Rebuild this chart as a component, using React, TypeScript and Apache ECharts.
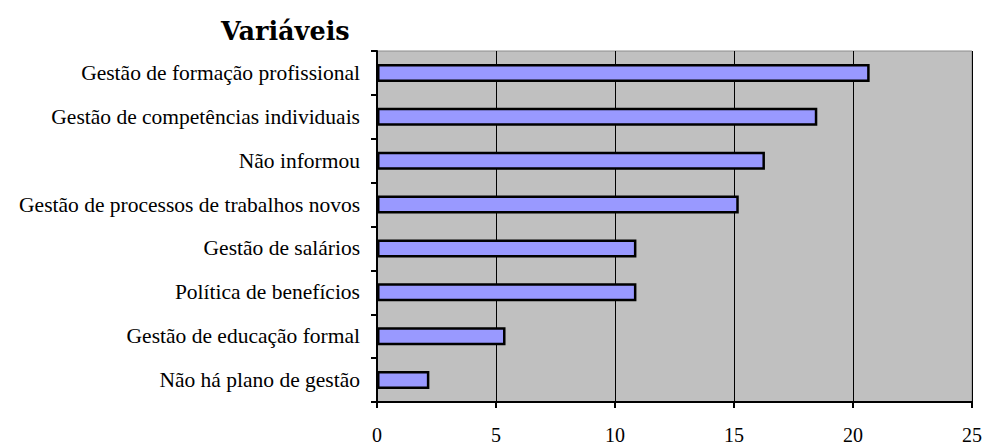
import React, { useEffect, useRef } from "react";
import * as echarts from "echarts";

const categories = [
  "Gestão de formação profissional",
  "Gestão de competências individuais",
  "Não informou",
  "Gestão de processos de trabalhos novos",
  "Gestão de salários",
  "Política de benefícios",
  "Gestão de educação formal",
  "Não há plano de gestão",
];
const values = [20.7, 18.5, 16.3, 15.2, 10.9, 10.9, 5.4, 2.2];
const titleText = "Variáveis";

const FONT = "'Liberation Serif', 'DejaVu Serif', serif";

export default function App() {
  const ref = useRef<HTMLDivElement>(null);
  useEffect(() => {
    document.body.style.margin = "0";
    document.body.style.overflow = "hidden";
    if (!ref.current) return;
    const chart = echarts.init(ref.current, null, { renderer: "svg" });
    chart.setOption({
      animation: false,
      backgroundColor: "#ffffff",
      title: {
        text: titleText,
        left: 216,
        top: 13,
        textStyle: { fontFamily: "'DejaVu Serif', serif", fontWeight: "bold", fontSize: 25.5, color: "#000" },
      },
      grid: {
        left: 377,
        right: 11,
        top: 51,
        bottom: 42,
        show: true,
        backgroundColor: "#c0c0c0",
        borderColor: "#8c8c8c",
        borderWidth: 1,
      },
      xAxis: {
        type: "value",
        min: 0,
        max: 25,
        interval: 5,
        axisLine: { show: true, lineStyle: { color: "#000", width: 2 } },
        axisTick: { show: true, length: 6, lineStyle: { color: "#000", width: 2 } },
        axisLabel: { fontFamily: FONT, fontSize: 20, color: "#000", margin: 23 },
        splitLine: { show: true, lineStyle: { color: "#000", width: 1 } },
      },
      yAxis: {
        type: "category",
        data: categories,
        inverse: true,
        axisLine: { show: true, lineStyle: { color: "#000", width: 2 } },
        axisTick: { show: true, length: 6, lineStyle: { color: "#000", width: 2 } },
        axisLabel: { fontFamily: FONT, fontSize: 21.5, color: "#000", margin: 17 },
        splitLine: { show: false },
      },
      series: [
        {
          type: "bar",
          data: values,
          barWidth: 18,
          itemStyle: { color: "#9999ff", borderColor: "#000", borderWidth: 2.5 },
        },
      ],
    });
    return () => chart.dispose();
  }, []);
  return (
    <div style={{ position: "fixed", left: 0, top: 0, width: 985, height: 445, overflow: "hidden" }}>
      <div ref={ref} style={{ width: 985, height: 445 }} />
    </div>
  );
}
